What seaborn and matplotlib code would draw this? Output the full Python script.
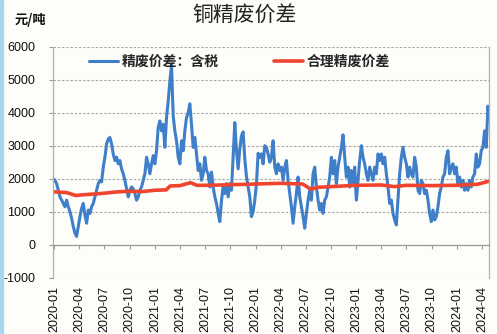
import numpy as np
import pandas as pd
import matplotlib
matplotlib.use('Agg')
import matplotlib.pyplot as plt
from matplotlib.patches import Rectangle
import seaborn as sns

# ---------------- data ----------------
title = '铜精废价差'
unit_label = '元/吨'
blue_name = '精废价差：含税'
red_name = '合理精废价差'

# blue series: evenly spaced observations between these two dates
blue_start = '2019-12-29'
blue_end = '2024-04-28'
blue_values = [
    2000, 1950, 1850, 1650, 1450, 1350, 1250, 1150, 1350, 1150,
    1000, 800, 550, 350, 250, 550, 850, 1100, 1250, 900,
    650, 1050, 950, 1150, 1250, 1450, 1650, 1850, 1950, 1900,
    2350, 2650, 3050, 3200, 3250, 3050, 2750, 2550, 2650, 2450,
    2550, 2300, 2150, 1950, 1700, 1450, 1650, 1750, 1700, 1550,
    1350, 1450, 1650, 1750, 1950, 2150, 2650, 2450, 2150, 2450,
    2700, 2450, 2850, 3550, 3750, 3450, 3650, 2950, 3850, 4350,
    4950, 5450, 3900, 3450, 3150, 2650, 2450, 3150, 2850, 3450,
    3850, 4000,
    4270, 3650, 2950, 3250, 2750, 2250, 2450, 1950, 2150, 2650,
    2250, 2150, 1750, 2200, 1750, 1450, 1250, 950, 700, 1350,
    1750, 1550, 1850, 1450, 1850, 1650, 2650, 3700, 2850, 2300,
    2900, 3300, 3420, 2600, 2060, 1750, 1450, 850, 1000, 1350,
    1850, 2770, 2650, 2750, 2450, 3000, 2950, 2750, 2500, 2650,
    3150, 2350, 2150, 2450, 2250, 2350, 1950, 2350, 2550, 1950,
    1550, 1150, 650, 1150, 1550, 2050, 1450, 1150, 850, 500,
    950, 1350, 1650, 1350, 2150, 2350, 1750, 1350, 1050, 1250,
    950, 1350, 1450, 1750, 2050,
    2650, 2150, 2550, 1850, 2350, 2650, 2950, 3330, 2650, 2050,
    2350, 1750, 2250, 1850, 2350, 1350, 1950, 2550, 3000, 2650,
    2450, 2150, 1950, 2350, 2150, 1950, 2350, 2150, 2750, 2550,
    2750, 2450, 2650, 2150, 1750, 1250, 1350, 950, 750, 600,
    1350, 2150, 2650, 2950, 2650, 2450, 2050, 2350, 2150, 2050,
    2650, 2350, 1650, 1550, 1950, 1850, 1550, 1650, 1350, 950,
    700, 1050, 750, 850, 1150, 1550, 1750, 2050, 2150, 2650,
    2850, 2150, 2350, 2450, 2150, 2350, 1850, 2050, 1750, 1950,
    1650, 1850, 1650, 1950, 1750, 2050, 2150, 2750, 2350, 2450,
    2850, 2950, 3450, 2950, 4200, 3800,
]

red_dates = [
    '2020-01-02', '2020-02-15', '2020-03-20', '2020-04-10', '2020-05-15',
    '2020-07-01', '2020-08-15', '2020-10-01', '2020-11-15', '2021-01-01',
    '2021-02-10', '2021-02-25', '2021-04-01', '2021-05-10', '2021-06-01',
    '2021-07-01', '2021-09-01', '2021-10-01', '2021-12-01', '2022-01-01',
    '2022-04-01', '2022-06-20', '2022-07-20', '2022-08-15', '2022-10-01',
    '2023-01-01', '2023-04-01', '2023-05-20', '2023-07-01', '2023-10-01',
    '2024-01-01', '2024-02-15', '2024-03-15', '2024-04-28',
]
red_values = [
    1600, 1580, 1490, 1510, 1530,
    1560, 1600, 1620, 1610, 1650,
    1660, 1780, 1790, 1880, 1800,
    1800, 1810, 1820, 1830, 1840,
    1860, 1840, 1680, 1740, 1760,
    1800, 1810, 1760, 1800, 1790,
    1800, 1820, 1830, 1930,
]

y_ticks = [-1000, 0, 1000, 2000, 3000, 4000, 5000, 6000]
x_tick_dates = ['2020-01', '2020-04', '2020-07', '2020-10',
                '2021-01', '2021-04', '2021-07', '2021-10',
                '2022-01', '2022-04', '2022-07', '2022-10',
                '2023-01', '2023-04', '2023-07', '2023-10',
                '2024-01', '2024-04']

# ---------------- style ----------------
BG = '#fdfdf9'
BLUE = '#3f7fc9'
RED = '#f0442f'
GRID = '#a8a8a8'
SPINE = '#b0b0b0'

sns.set_theme(style='white')
plt.rcParams['font.family'] = ['Liberation Sans', 'Noto Sans CJK SC', 'DejaVu Sans']
plt.rcParams['axes.unicode_minus'] = False

df_blue = pd.DataFrame({
    'date': pd.date_range(blue_start, blue_end, periods=len(blue_values)),
    'value': blue_values,
})
df_red = pd.DataFrame({'date': pd.to_datetime(red_dates), 'value': red_values})

fig = plt.figure(figsize=(4.97, 3.34), dpi=100, facecolor=BG)
ax = fig.add_axes([53.3 / 497, 1 - 277.7 / 334, 436 / 497, 231 / 334])
ax.set_facecolor(BG)

sns.lineplot(data=df_blue, x='date', y='value', color=BLUE, lw=2.2,
             ax=ax, label=blue_name)
sns.lineplot(data=df_red, x='date', y='value', color=RED, lw=2.6,
             ax=ax, label=red_name)

ax.set_ylim(-1000, 6000)
ax.set_xlim(pd.Timestamp(blue_start), pd.Timestamp('2024-04-27'))
ax.set_yticks(y_ticks)
ax.set_yticklabels([str(v) for v in y_ticks])
ax.set_xticks(pd.to_datetime(x_tick_dates))
ax.set_xticklabels(x_tick_dates)
ax.set_xlabel('')
ax.set_ylabel('')

ax.set_axisbelow(True)
ax.yaxis.grid(True, linestyle=(0, (2.2, 1.6)), color=GRID, lw=0.8)
ax.xaxis.grid(False)

ax.spines['top'].set_visible(False)
ax.spines['bottom'].set_position(('data', 0))
ax.spines['bottom'].set_color('#9a9a9a')
ax.spines['bottom'].set_linewidth(0.9)
for s in ('left', 'right'):
    ax.spines[s].set_color(SPINE)
    ax.spines[s].set_linewidth(0.9)

ax.tick_params(axis='y', length=3, width=0.8, color='#9a9a9a', pad=10,
               labelsize=9, labelcolor='#111111', left=True)
ax.tick_params(axis='x', length=3, width=0.8, color='#9a9a9a', pad=27,
               labelsize=9, labelcolor='#111111', labelrotation=90, bottom=True,
               direction='out')

leg = ax.legend(ncol=2, frameon=False, loc='center left',
                bbox_to_anchor=(89 / 497, 1 - 62 / 334),
                bbox_transform=fig.transFigure, borderpad=0, borderaxespad=0,
                handlelength=2.1, handletextpad=0.25, columnspacing=4.0,
                prop={'family': ['Noto Sans CJK SC'], 'weight': 'bold', 'size': 10})

fig.text(245 / 497, 1 - 15 / 334, title, ha='center', va='center',
         fontsize=15, family=['Noto Sans CJK SC'], color='#222222')
fig.text(30 / 497, 1 - 20 / 334, unit_label, ha='center', va='center',
         fontsize=9.5, fontweight='bold', family=['Noto Sans CJK SC', 'DejaVu Sans'],
         color='#111111')

fig.patches.append(Rectangle((0, 0), 2.5 / 497, 1, transform=fig.transFigure,
                             color='#a9d6ef', zorder=0))

fig.savefig('out.png', dpi=100, facecolor=BG)
